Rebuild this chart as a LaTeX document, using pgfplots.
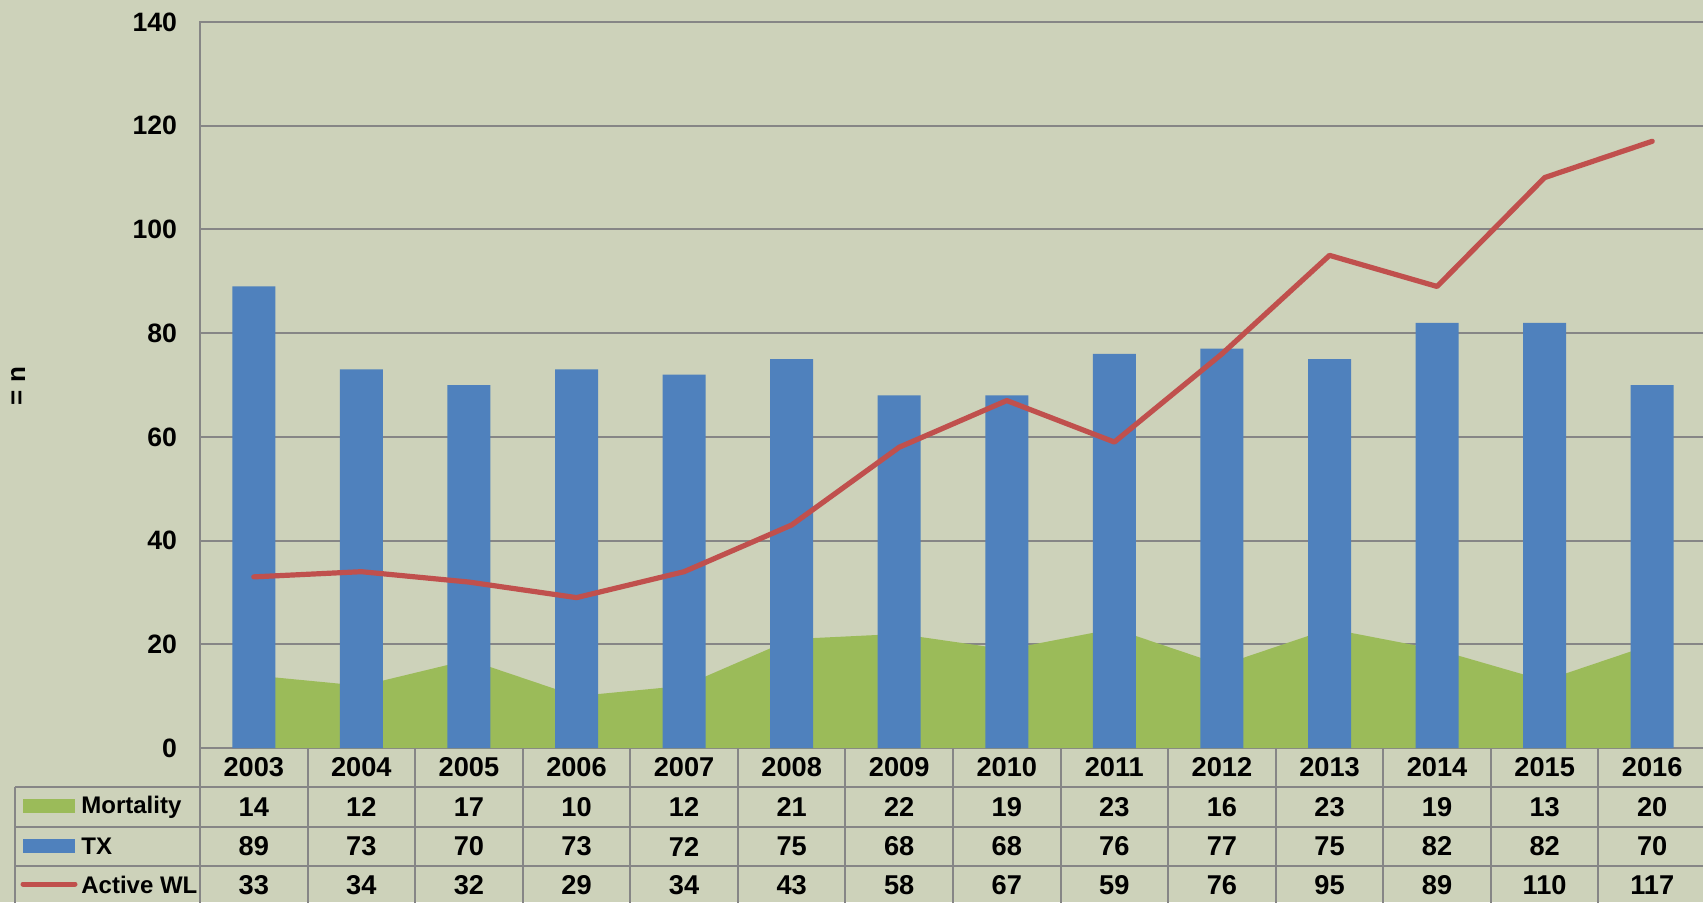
\documentclass[border=0pt]{standalone}
\usepackage{fontspec}
\setmainfont{Liberation Sans}
\usepackage{pgfplots}
\usepackage{pgfplotstable}
\pgfplotsset{compat=1.18}
\definecolor{bg}{RGB}{205,210,186}
\definecolor{txblue}{RGB}{79,129,189}
\definecolor{wlred}{RGB}{192,80,77}
\definecolor{mgreen}{RGB}{155,187,89}
\definecolor{gridgray}{RGB}{134,134,134}

\pgfplotstableread{
x year mort tx wl
0 2003 14 89 33
1 2004 12 73 34
2 2005 17 70 32
3 2006 10 73 29
4 2007 12 72 34
5 2008 21 75 43
6 2009 22 68 58
7 2010 19 68 67
8 2011 23 76 59
9 2012 16 77 76
10 2013 23 75 95
11 2014 19 82 89
12 2015 13 82 110
13 2016 20 70 117
}\data

\begin{document}
\begin{tikzpicture}[x=1pt,y=1pt]
\useasboundingbox (0,0) rectangle (851.5,451);
\fill[bg] (0,0) rectangle (851.5,451);
\begin{axis}[
 at={(100pt,77pt)}, anchor=south west, scale only axis,
 width=753pt, height=363pt,
 xmin=-0.5, xmax=13.5, ymin=0, ymax=140,
 xtick=\empty, ytick={0,20,...,140},
 ymajorgrids, grid style={gridgray, line width=1pt},
 axis line style={gridgray, line width=1pt},
 major tick length=0pt,
 yticklabel style={font=\bfseries\fontsize{13.3}{15}\selectfont, xshift=-8pt},
 /pgf/number format/assume math mode=true,
 axis background/.style={fill=bg},
]
\addplot[fill=mgreen, draw=none] table[x=x,y=mort]{\data} \closedcycle;
\addplot[ybar, bar width=21.5pt, bar shift=0pt, fill=txblue, draw=none] table[x=x,y=tx]{\data};
\addplot[wlred, line width=2.6pt, line cap=round, line join=round] table[x=x,y=wl]{\data};
\end{axis}
\def\cw{53.7857}
\begin{scope}[gridgray, line width=1pt]
\draw (7.5,57.5) -- (860,57.5);
\draw (7.5,37.5) -- (860,37.5);
\draw (7.5,18) -- (860,18);
\draw (7.5,57.5) -- (7.5,-5);
\foreach \i in {0,...,14} \draw ({100+\i*\cw},77) -- ({100+\i*\cw},-5);
\end{scope}
\foreach \i in {0,...,13}{
 \pgfplotstablegetelem{\i}{year}\of\data \let\yr\pgfplotsretval
 \pgfplotstablegetelem{\i}{mort}\of\data \let\mo\pgfplotsretval
 \pgfplotstablegetelem{\i}{tx}\of\data \let\tx\pgfplotsretval
 \pgfplotstablegetelem{\i}{wl}\of\data \let\wl\pgfplotsretval
 \node[font=\bfseries\fontsize{13.6}{15}\selectfont] at ({100+(\i+0.5)*\cw},67.25) {\yr};
 \node[font=\bfseries\fontsize{13.6}{15}\selectfont] at ({100+(\i+0.5)*\cw},47.5) {\mo};
 \node[font=\bfseries\fontsize{13.6}{15}\selectfont] at ({100+(\i+0.5)*\cw},27.75) {\tx};
 \node[font=\bfseries\fontsize{13.6}{15}\selectfont] at ({100+(\i+0.5)*\cw},8.5) {\wl};
}
\fill[mgreen] (11.5,44.5) rectangle (37.5,51.5);
\fill[txblue] (11.5,24.5) rectangle (37.5,31.5);
\draw[wlred, line width=2.5pt, line cap=round] (11.5,9) -- (37.5,9);
\node[anchor=west, inner sep=0pt, font=\bfseries\fontsize{12}{14}\selectfont] at (40.5,47.5) {Mortality};
\node[anchor=west, inner sep=0pt, font=\bfseries\fontsize{12}{14}\selectfont] at (40.5,27.75) {TX};
\node[anchor=west, inner sep=0pt, font=\bfseries\fontsize{12}{14}\selectfont] at (40.5,8.5) {Active WL};
\node[rotate=90, font=\bfseries\fontsize{13}{14}\selectfont] at (9,258) {= n};
\end{tikzpicture}
\end{document}
